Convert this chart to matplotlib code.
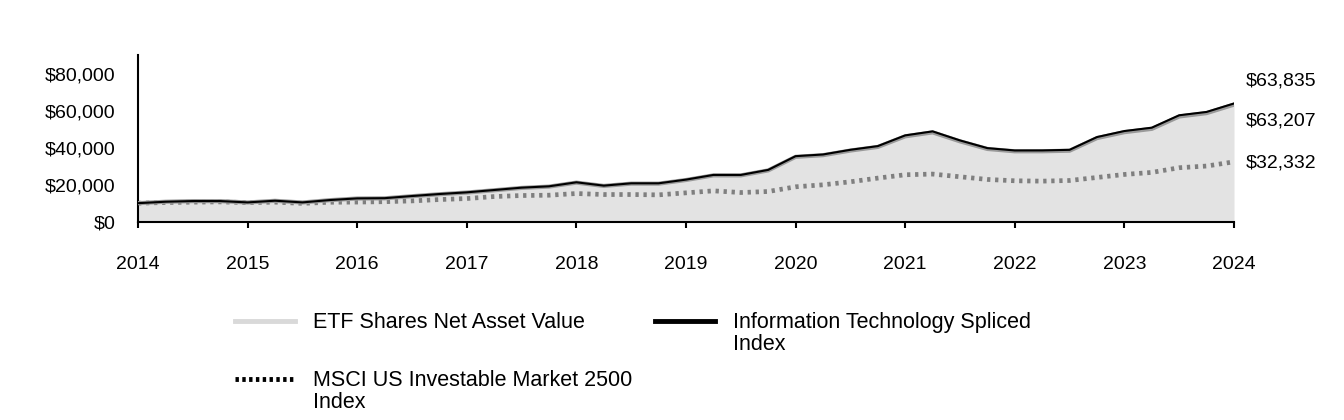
import numpy as np
import matplotlib.pyplot as plt
from matplotlib.lines import Line2D

plt.rcParams['font.family'] = ['Liberation Sans', 'DejaVu Sans']

# quarterly values, Q1 2014 .. Q1 2024
years = [2014, 2015, 2016, 2017, 2018, 2019, 2020, 2021, 2022, 2023, 2024]
quarters = 2014 + np.arange(41) / 4

etf = [10000, 10760, 11110, 11100, 10380, 11280, 10370, 11630, 12520, 12620,
       13770, 14840, 15740, 16980, 18240, 18950, 21100, 19310, 20550, 20540,
       22510, 25010, 25000, 27690, 35020, 35910, 38410, 40370, 46090, 48230,
       43390, 39270, 38010, 38020, 38330, 45140, 48340, 50120, 56810, 58620,
       63207]
index_it = [10000, 10780, 11140, 11140, 10420, 11330, 10420, 11690, 12590, 12700,
            13860, 14940, 15850, 17110, 18380, 19100, 21270, 19470, 20730, 20730,
            22720, 25250, 25250, 27970, 35380, 36290, 38820, 40810, 46600, 48770,
            43880, 39720, 38460, 38480, 38800, 45700, 48950, 50760, 57460, 59260,
            63835]
msci = [10000, 10350, 10550, 10700, 10300, 10550, 9900, 10500, 10600, 10800,
        11230, 11960, 12500, 13580, 14130, 14310, 15210, 14670, 14670, 14490,
        15580, 16660, 15750, 16300, 18840, 19920, 21550, 23540, 25340, 25710,
        24260, 22810, 22090, 21900, 22250, 23880, 25510, 26600, 29140, 30050,
        32332]

labels = ["ETF Shares Net Asset Value", "Information Technology Spliced\nIndex",
          "MSCI US Investable Market 2500\nIndex"]

W, H = 1344, 420
fig = plt.figure(figsize=(W / 100, H / 100), dpi=100)
ax = fig.add_axes([138 / W, 1 - 221.7 / H, 1096 / W, 166.7 / H])

ax.fill_between(quarters, etf, color="#e3e3e3", lw=0, zorder=1)
ax.plot(quarters, msci, color="#7f7f7f", lw=3.4, dashes=(0.7, 1.0), zorder=2)
ax.plot(quarters, etf, color="#9a9a9a", lw=3.0, zorder=3)
ax.plot(quarters, index_it, color="black", lw=1.5, zorder=4)

ax.set_xlim(2014, 2024)
ax.set_ylim(0, 90000)
ax.set_xticks(years)
ax.set_xticklabels([str(y) for y in years])
ax.set_yticks([0, 20000, 40000, 60000, 80000])
ax.set_yticklabels([f"${v:,.0f}" for v in [0, 20000, 40000, 60000, 80000]])
ax.tick_params(axis="y", length=0, pad=16, labelsize=14)
ax.tick_params(axis="x", length=4.5, width=1.5, pad=20, labelsize=14)
for s in ["top", "right"]:
    ax.spines[s].set_visible(False)
for s in ["left", "bottom"]:
    ax.spines[s].set_linewidth(1.5)

# end value labels
end_x = quarters[-1]
for val, dy in [(index_it[-1], 16.5), (etf[-1], -11.5), (msci[-1], -0.5)]:
    ax.annotate(f"${val:,.0f}", xy=(end_x, val), xytext=(8.6, dy),
                textcoords="offset points", va="center", ha="left",
                fontsize=14, annotation_clip=False)

# legend drawn by hand so that multi-line labels hang from the first line
legend_items = [
    (235, 321, dict(color="#d9d9d9", lw=3.5), labels[0]),
    (655, 321, dict(color="black", lw=3.5), labels[1]),
    (235, 379, dict(color="black", lw=3.5, dashes=(0.7, 0.7)), labels[2]),
]
for x0, y0, style, text in legend_items:
    fig.add_artist(Line2D([x0 / W, (x0 + 60) / W], [1 - y0 / H, 1 - y0 / H],
                          transform=fig.transFigure, **style))
    fig.text((x0 + 78) / W, 1 - (y0 - 9) / H, text, fontsize=15.5,
             va="top", ha="left", linespacing=1.05)

fig.savefig("out.png", dpi=100)
